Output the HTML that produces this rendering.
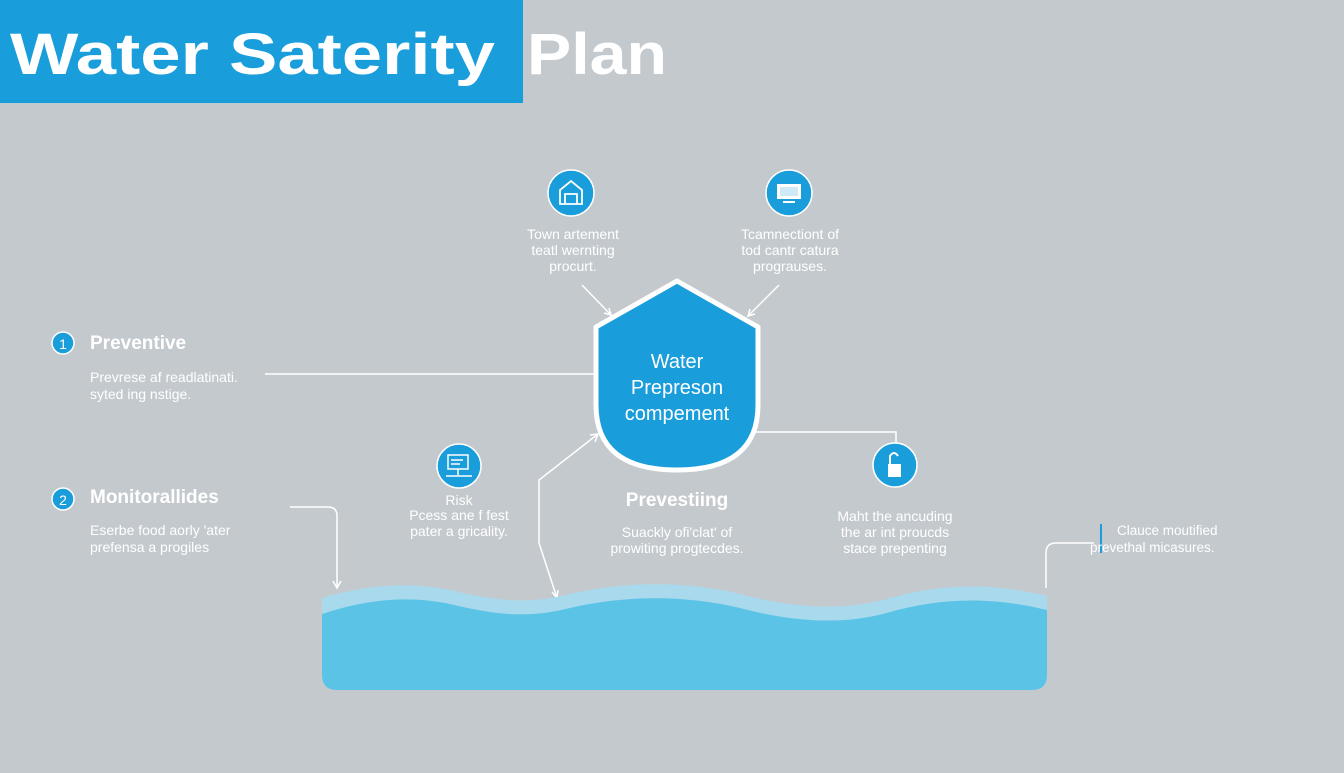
<!DOCTYPE html>
<html><head><meta charset="utf-8"><style>
html,body{margin:0;padding:0;}
body{width:1344px;height:768px;background:#c4c9ce;overflow:hidden;font-family:"Liberation Sans",sans-serif;}
</style></head><body>
<svg width="1344" height="768" viewBox="0 0 1344 768" xmlns="http://www.w3.org/2000/svg" font-family="Liberation Sans, sans-serif">
<rect width="1344" height="768" fill="#c4c9ce"/>
<rect x="0" y="0" width="523" height="103" fill="#1a9ddb"/>
<text x="10" y="74" font-size="58" font-weight="bold" fill="#fff" textLength="485" lengthAdjust="spacingAndGlyphs">Water Saterity</text>
<text x="527" y="74" font-size="58" font-weight="bold" fill="#fff" textLength="140" lengthAdjust="spacingAndGlyphs">Plan</text>

<!-- top icons -->
<circle cx="571" cy="193" r="23" fill="#1a9ddb" stroke="#fff" stroke-width="1.5"/>
<path d="M560 204 V190 L571 181 L582 190 V204 Z M565 204 V194 H577 V204" fill="none" stroke="#fff" stroke-width="1.8"/>
<circle cx="789" cy="193" r="23" fill="#1a9ddb" stroke="#fff" stroke-width="1.5"/>
<rect x="777" y="184" width="24" height="15" fill="#fff"/><rect x="780" y="187" width="18" height="9" fill="#cfe9f6"/><rect x="783" y="201" width="12" height="2" fill="#fff"/>

<g fill="#fff" font-size="14" text-anchor="middle">
<text x="573" y="239">Town artement</text><text x="573" y="255">teatl  wernting</text><text x="573" y="271">procurt.</text>
<text x="790" y="239">Tcamnectiont of</text><text x="790" y="255">tod cantr catura</text><text x="790" y="271">prograuses.</text>
</g>
<g stroke="#fff" stroke-width="1.5" fill="none">
<line x1="582" y1="285" x2="611" y2="315"/><path d="M604 313 L611 315 L609 308"/>
<line x1="779" y1="285" x2="748" y2="316"/><path d="M750 309 L748 316 L755 314"/>
</g>

<!-- shield -->
<path d="M677 281 L758 327 L758 405 Q758 470 677 470 Q596 470 596 405 L596 327 Z" fill="#1a9ddb" stroke="#fff" stroke-width="5" stroke-linejoin="round"/>
<g fill="#fff" font-size="20" text-anchor="middle">
<text x="677" y="368">Water</text><text x="677" y="394">Prepreson</text><text x="677" y="420">compement</text>
</g>

<!-- left items -->
<circle cx="63" cy="343" r="11" fill="#1a9ddb" stroke="#fff" stroke-width="1.5"/><text x="63" y="349" fill="#fff" font-size="14" text-anchor="middle">1</text>
<text x="90" y="349" fill="#fff" font-size="19" font-weight="bold">Preventive</text>
<text x="90" y="382" fill="#fff" font-size="14">Prevrese af readlatinati.</text>
<text x="90" y="399" fill="#fff" font-size="14">syted ing nstige.</text>
<circle cx="63" cy="499" r="11" fill="#1a9ddb" stroke="#fff" stroke-width="1.5"/><text x="63" y="505" fill="#fff" font-size="14" text-anchor="middle">2</text>
<text x="90" y="503" fill="#fff" font-size="19" font-weight="bold">Monitorallides</text>
<text x="90" y="535" fill="#fff" font-size="14">Eserbe food aorly 'ater</text>
<text x="90" y="552" fill="#fff" font-size="14">prefensa a progiles</text>

<g stroke="#fff" stroke-width="1.5" fill="none">
<line x1="265" y1="374" x2="596" y2="374"/>
<path d="M290 507 H328 Q337 507 337 516 V588"/><path d="M333 581 L337 588 L341 581"/>
<path d="M598 434 L539 480 L539 543 L557 598"/><path d="M590 435 L598 434 L595 442"/><path d="M552 592 L557 598 L558 590"/>
<path d="M752 432 H896 V444"/>
<path d="M1046 588 V553 Q1046 543 1056 543 H1094"/>
</g>
<line x1="1101" y1="524" x2="1101" y2="553" stroke="#1a9ddb" stroke-width="2"/>

<!-- mid icons -->
<circle cx="459" cy="466" r="22" fill="#1a9ddb" stroke="#fff" stroke-width="1.5"/>
<rect x="448" y="455" width="20" height="14" fill="none" stroke="#fff" stroke-width="1.5"/><path d="M451 460 H463 M451 464 H460 M458 469 V475 M446 476 H472" stroke="#fff" stroke-width="1.5"/>
<circle cx="895" cy="465" r="22" fill="#1a9ddb" stroke="#fff" stroke-width="1.5"/>
<rect x="888" y="464" width="13" height="13" fill="#fff"/><path d="M890 464 V456 Q894 450 898 456" fill="none" stroke="#fff" stroke-width="2"/>

<g fill="#fff" font-size="14" text-anchor="middle">
<text x="459" y="505">Risk</text><text x="459" y="520">Pcess ane f fest</text><text x="459" y="536">pater a gricality.</text>
<text x="677" y="537">Suackly ofi'clat' of</text><text x="677" y="553">prowiting progtecdes.</text>
<text x="895" y="521">Maht the ancuding</text><text x="895" y="537">the ar int proucds</text><text x="895" y="553">stace prepenting</text>
</g>
<g fill="#fff" font-size="13.5">
<text x="1117" y="535">Clauce moutified</text><text x="1090" y="552">prevethal micasures.</text>
</g>
<text x="677" y="506" fill="#fff" font-size="19" font-weight="bold" text-anchor="middle">Prevestiing</text>

<!-- water -->
<path d="M322 598 C370 584 410 582 450 590 C500 602 530 604 570 594 C630 580 690 582 740 594 C800 610 850 610 890 598 C940 584 990 582 1047 596 L1047 675 Q1047 690 1032 690 L337 690 Q322 690 322 675 Z" fill="#a9d9ec"/>
<path d="M322 614 C370 598 410 596 450 604 C500 616 530 618 570 608 C630 594 690 596 740 608 C800 624 850 624 890 612 C940 598 990 596 1047 610 L1047 675 Q1047 690 1032 690 L337 690 Q322 690 322 675 Z" fill="#5bc4e6"/>
</svg>
</body></html>
